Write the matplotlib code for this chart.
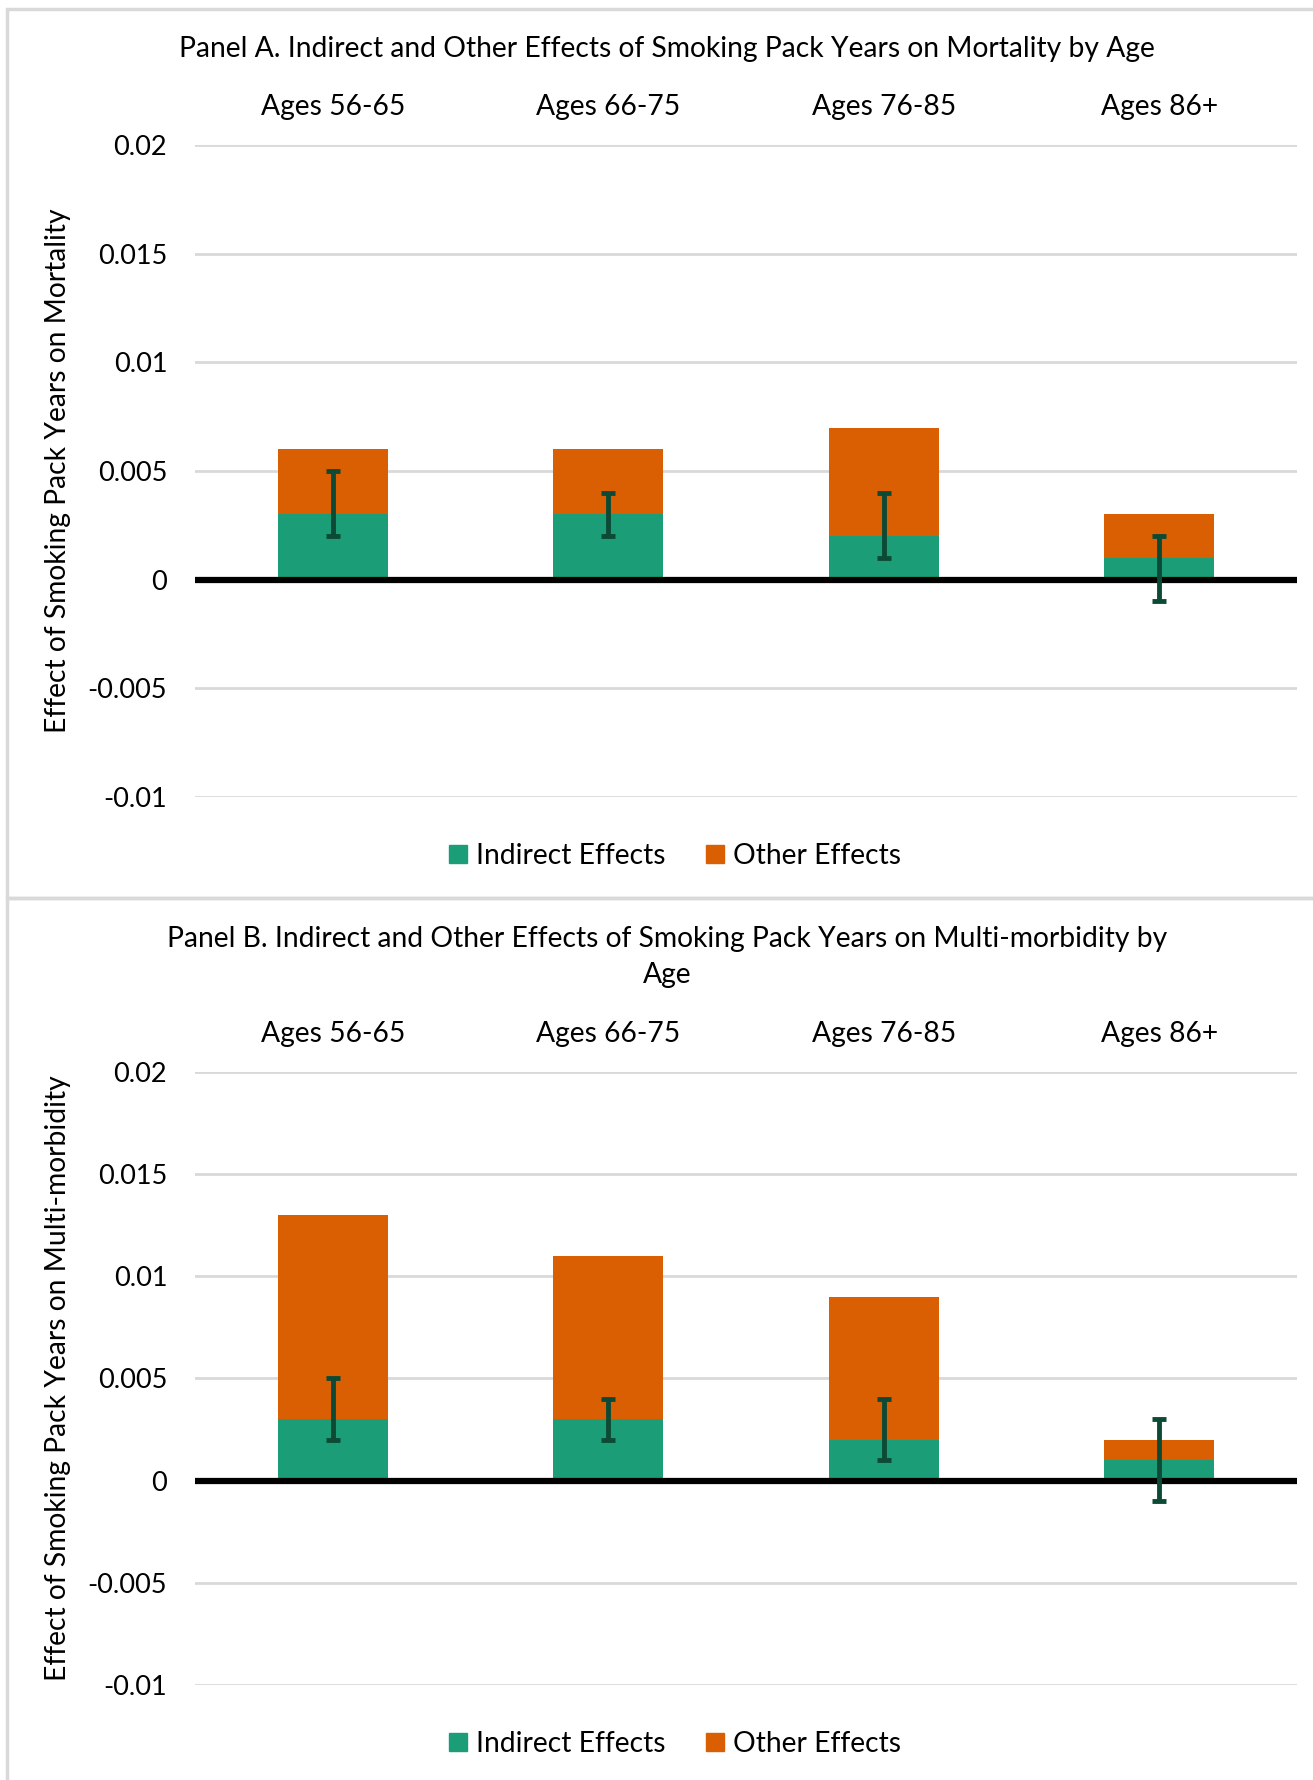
import numpy as np
import matplotlib
matplotlib.use("Agg")
import matplotlib.pyplot as plt
from matplotlib.patches import Rectangle
from matplotlib.lines import Line2D

plt.rcParams["font.family"] = ["Lato", "DejaVu Sans"]

# ──────────────────────────────────────────
# Data
# ──────────────────────────────────────────
categories = ["Ages 56-65", "Ages 66-75", "Ages 76-85", "Ages 86+"]

mort_indirect = [0.003, 0.003, 0.002, 0.001]
mort_other = [0.003, 0.003, 0.005, 0.002]
mort_ci_low = [0.002, 0.002, 0.001, -0.001]
mort_ci_high = [0.005, 0.004, 0.004, 0.002]

morb_indirect = [0.003, 0.003, 0.002, 0.001]
morb_other = [0.010, 0.008, 0.007, 0.001]
morb_ci_low = [0.002, 0.002, 0.001, -0.001]
morb_ci_high = [0.005, 0.004, 0.004, 0.003]

yticks = [-0.01, -0.005, 0, 0.005, 0.01, 0.015, 0.02]
ytick_labels = ["-0.01", "-0.005", "0", "0.005", "0.01", "0.015", "0.02"]

GREEN = "#1b9e77"
ORANGE = "#d95f02"
ERR = "#0d4a35"
GRID = "#d9d9d9"
FS = 20.3
TICK_FS = 19.5

W, H = 1313, 1780
fig = plt.figure(figsize=(W / 100, H / 100), dpi=100)


def fx(px):
    return px / W


def fy(py):
    return 1 - py / H


def draw_panel(top_px, bottom_px, indirect, other, lo, hi, ylabel):
    ax = fig.add_axes([fx(195), fy(bottom_px), fx(1297) - fx(195),
                       fy(top_px) - fy(bottom_px)])
    x = np.arange(len(categories))
    ax.bar(x, indirect, width=0.4, color=GREEN, zorder=3)
    ax.bar(x, other, width=0.4, bottom=indirect, color=ORANGE, zorder=3)
    mid = (np.array(lo) + np.array(hi)) / 2
    err = (np.array(hi) - np.array(lo)) / 2
    ax.errorbar(x, mid, yerr=err, fmt="none", ecolor=ERR, elinewidth=3.5,
                capsize=5, capthick=3.5, zorder=5)
    ax.axhline(0, color="black", lw=4.5, zorder=4)
    ax.set_xlim(-0.5, len(categories) - 0.5)
    ax.set_ylim(-0.01, 0.02)
    ax.set_yticks(yticks)
    ax.set_yticklabels(ytick_labels, fontsize=TICK_FS)
    ax.yaxis.grid(True, color=GRID, lw=2, zorder=0)
    ax.set_axisbelow(True)
    ax.xaxis.tick_top()
    ax.set_xticks(x)
    ax.set_xticklabels(categories, fontsize=FS)
    ax.tick_params(axis="y", length=0, pad=20)
    ax.tick_params(axis="x", length=0, pad=18)
    for s in ax.spines.values():
        s.set_visible(False)
    ax.set_ylabel(ylabel, fontsize=FS, labelpad=12)
    return ax


# ──────────────────────────────────────────
# Panel frames
# ──────────────────────────────────────────
fig.patches.append(Rectangle((fx(7), fy(898)), 1.0, fy(9) - fy(898),
                             transform=fig.transFigure, fill=False,
                             edgecolor=GRID, lw=2.5))
fig.patches.append(Rectangle((fx(7), fy(1790)), 1.0, fy(898) - fy(1790),
                             transform=fig.transFigure, fill=False,
                             edgecolor=GRID, lw=2.5))

# ──────────────────────────────────────────
# Panel A
# ──────────────────────────────────────────
draw_panel(145, 797, mort_indirect, mort_other, mort_ci_low, mort_ci_high,
           "Effect of Smoking Pack Years on Mortality")
fig.text(fx(667), fy(49),
         "Panel A. Indirect and Other Effects of Smoking Pack Years on Mortality by Age",
         ha="center", va="center", fontsize=FS)

# ──────────────────────────────────────────
# Panel B
# ──────────────────────────────────────────
draw_panel(1072, 1685, morb_indirect, morb_other, morb_ci_low, morb_ci_high,
           "Effect of Smoking Pack Years on Multi-morbidity")
fig.text(fx(667), fy(957),
         "Panel B. Indirect and Other Effects of Smoking Pack Years on Multi-morbidity by\nAge",
         ha="center", va="center", fontsize=FS, linespacing=1.5)

# ──────────────────────────────────────────
# Legends
# ──────────────────────────────────────────
handles = [Line2D([], [], marker="s", ls="none", color=GREEN, markersize=13),
           Line2D([], [], marker="s", ls="none", color=ORANGE, markersize=13)]
for ly in (856, 1744):
    fig.legend(handles, ["Indirect Effects", "Other Effects"], ncol=2,
               loc="center", bbox_to_anchor=(fx(673), fy(ly)), frameon=False,
               fontsize=FS, handletextpad=0.2, columnspacing=1.3,
               handlelength=0.9)

fig.savefig("out.png", dpi=100)
